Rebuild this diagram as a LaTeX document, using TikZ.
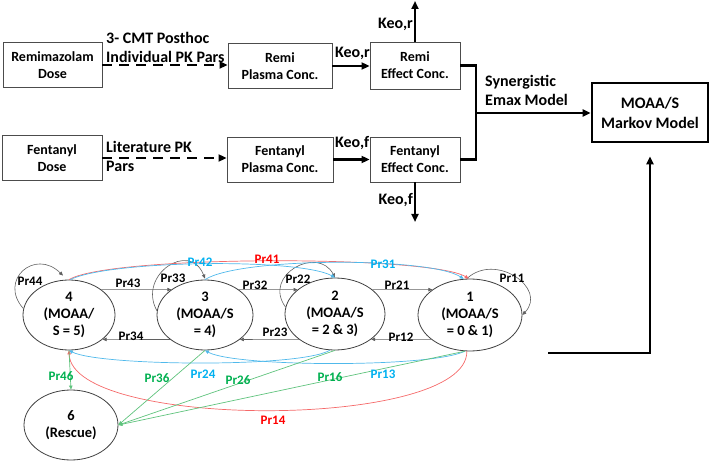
\documentclass[tikz,border=0pt]{standalone}
\usepackage{fontspec}
\setmainfont{Carlito}
\usetikzlibrary{shapes.geometric,arrows.meta}
\definecolor{pblue}{RGB}{0,176,240}
\definecolor{pred}{RGB}{255,0,0}
\definecolor{pgreen}{RGB}{0,176,80}
\definecolor{lblue}{RGB}{80,185,235}
\definecolor{lred}{RGB}{245,105,105}
\definecolor{lgreen}{RGB}{95,195,125}
\definecolor{edgegray}{RGB}{95,95,95}
\newcommand\fsz[2]{\fontsize{#1}{#2}\selectfont\bfseries}
\begin{document}
\begin{tikzpicture}[x=1pt,y=-1pt,
  box/.style={draw=black!70, line width=0.9pt, align=center, inner sep=0pt, font=\fsz{14}{17}},
  state/.style={ellipse, draw=black!75, line width=0.8pt, align=center, inner sep=0pt, font=\fsz{14.5}{17}},
  tline/.style={line width=2.4pt},
  tarrow/.style={line width=2.4pt, -{Triangle[length=8pt,width=7pt]}},
  dasharrow/.style={line width=2.4pt, dash pattern=on 10pt off 7pt, -{Triangle[length=8pt,width=7pt]}},
  lab/.style={font=\fsz{16}{19}, inner sep=0pt, align=left},
  plab/.style={font=\fsz{13}{15}, inner sep=0pt},
  trans/.style={draw=edgegray, line width=0.6pt, -{Triangle[length=4pt,width=3.5pt]}},
  bluearc/.style={draw=lblue, line width=0.7pt, -{Triangle[length=4pt,width=3.5pt]}},
  redarc/.style={draw=lred, line width=0.7pt, -{Triangle[length=4pt,width=3.5pt]}},
  greenarc/.style={draw=lgreen, line width=0.7pt, -{Triangle[length=4pt,width=3.5pt]}}
]
\useasboundingbox (0,0) rectangle (709,462);

% ---------- top flow ----------
\node[box, minimum width=99pt, minimum height=45pt] (rd) at (52.5,65) {Remimazolam\\Dose};
\node[box, minimum width=104pt, minimum height=45pt] (rp) at (280,66) {Remi\\Plasma Conc.};
\node[box, minimum width=90pt, minimum height=47pt] (re) at (415,65.5) {Remi\\Effect Conc.};
\node[box, minimum width=100pt, minimum height=45pt] (fd) at (52,158) {Fentanyl\\Dose};
\node[box, minimum width=106pt, minimum height=45pt] (fp) at (280,159.5) {Fentanyl\\Plasma Conc.};
\node[box, minimum width=90pt, minimum height=45pt] (fe) at (415,159.5) {Fentanyl\\Effect Conc.};
\node[box, line width=2.6pt, draw=black, minimum width=116pt, minimum height=59pt, font=\fsz{16}{20}] (mm) at (650,112.5) {MOAA/S\\Markov Model};

\draw[dasharrow] (rd.east) -- (rd.east -| rp.west);
\node[lab, anchor=south west] (l1) at (106,63) {3- CMT Posthoc\\Individual PK Pars};
\draw[dasharrow] (fd.east) -- (fd.east -| fp.west);
\node[lab, anchor=north west] (l2) at (106,141) {Literature PK\\Pars};

\draw[tarrow] (rp.east) -- (rp.east -| re.west);
\node[lab, anchor=base west] (k1) at (335,58) {Keo,r};
\draw[tarrow] (fp.east) -- (fp.east -| fe.west);
\node[lab, anchor=base west] (k2) at (335,148) {Keo,f};

\coordinate (ktop) at (415,1);
\draw[tarrow] (re.north) -- (ktop);
\node[lab, anchor=base east] (k3) at (413,29) {Keo,r};
\coordinate (kbot) at (415,222);
\draw[tarrow] (fe.south) -- (kbot);
\node[lab, anchor=base east] (k4) at (413,205) {Keo,f};

\coordinate (j) at (476,113);
\draw[tline] (re.east) -| (j) |- (fe.east);
\draw[tarrow] (j) -- (j -| mm.west);
\node[lab, anchor=south west] (syn) at (485,106) {Synergistic\\Emax Model};

\coordinate (ret) at (548,353);
\draw[tarrow] (ret) -| ([yshift=-13pt]mm.south);

% ---------- Markov states ----------
\node[state, minimum width=92pt, minimum height=70pt] (s4) at (69,315) {4\\(MOAA/\\S = 5)};
\node[state, minimum width=96pt, minimum height=70pt] (s3) at (205,315) {3\\(MOAA/S\\= 4)};
\node[state, minimum width=100pt, minimum height=72pt] (s2) at (335,314) {2\\(MOAA/S\\= 2 \& 3)};
\node[state, minimum width=104pt, minimum height=72pt] (s1) at (470,315) {1\\(MOAA/S\\= 0 \& 1)};
\node[state, minimum width=94pt, minimum height=70pt] (s6) at (71,425) {6\\(Rescue)};

% horizontal transitions
\draw[trans] (s4.38) -- (s3.143);
\draw[trans] (s3.37) -- (s2.147);
\draw[trans] (s2.33) -- (s1.146);
\draw[trans] (s3.215) -- (s4.324);
\draw[trans] (s2.215) -- (s3.325);
\draw[trans] (s1.212) -- (s2.325);
\node[plab] (p43) at (128,283) {Pr43};
\node[plab] (p32) at (255,285) {Pr32};
\node[plab] (p21) at (397,285) {Pr21};
\node[plab] (p34) at (131,336) {Pr34};
\node[plab] (p23) at (275,332) {Pr23};
\node[plab] (p12) at (401,337) {Pr12};

% self loops
\draw[trans] (s4.172) .. controls (-2,280) and (35,248) .. ([xshift=-6pt,yshift=4pt]s4.north);
\draw[trans] (s3.175) .. controls (137,275) and (190,240) .. ([yshift=1pt]s3.north);
\draw[trans] (s2.172) .. controls (262,275) and (318,245) .. (s2.north);
\draw[trans] (s1.95) .. controls (495,252) and (548,288) .. (s1.east);
\node[plab] (p44) at (30,281) {Pr44};
\node[plab] (p33) at (173,278) {Pr33};
\node[plab] (p22) at (298,279) {Pr22};
\node[plab] (p11) at (512,278) {Pr11};

% upper coloured arcs
\draw[redarc] (s4.north) .. controls (110,255) and (430,255) .. (s1.92);
\draw[bluearc] (s4.88) .. controls (110,260) and (300,258) .. (s2.north);
\draw[bluearc] (s3.north) .. controls (240,257) and (430,257) .. (s1.100);
\node[plab, text=pblue] (p42) at (200,262) {Pr42};
\node[plab, text=pred] (p41) at (267,259) {Pr41};
\node[plab, text=pblue] (p31) at (383,264) {Pr31};

% lower coloured arcs
\draw[bluearc] (s2.262) .. controls (300,368) and (100,366) .. (s4.south);
\draw[bluearc] (s1.262) .. controls (430,368) and (235,367) .. (s3.south);
\draw[redarc] (s1.265) .. controls (468,430) and (72,430) .. (s4.south);
\draw[greenarc] (s4.south) -- (s6.north);
\draw[greenarc] (s3.south) -- (s6.east);
\draw[greenarc] (s2.south) -- (s6.east);
\draw[greenarc] (s1.262) -- (s6.east);
\node[plab, text=pgreen] (p46) at (61,376) {Pr46};
\node[plab, text=pgreen] (p36) at (157,378) {Pr36};
\node[plab, text=pblue] (p24) at (203,374) {Pr24};
\node[plab, text=pgreen] (p26) at (238,380) {Pr26};
\node[plab, text=pgreen] (p16) at (330,377) {Pr16};
\node[plab, text=pblue] (p13) at (383,374) {Pr13};
\node[plab, text=pred] (p14) at (273,420) {Pr14};
\end{tikzpicture}
\end{document}
